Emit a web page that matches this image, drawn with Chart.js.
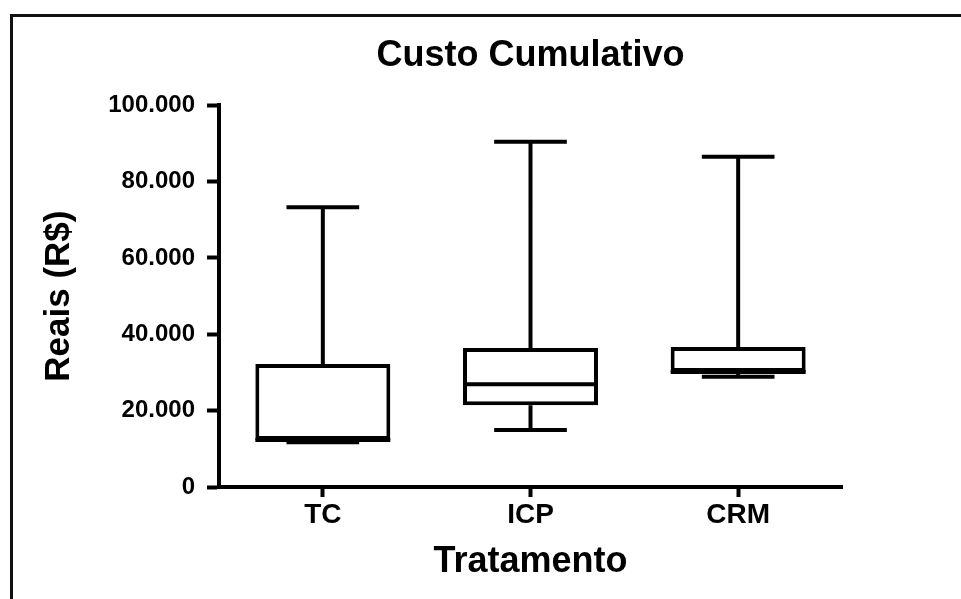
<!DOCTYPE html>
<html>
<head>
<meta charset="utf-8">
<script src="https://cdn.jsdelivr.net/npm/chart.js@4"></script>
<style>
  html, body { margin: 0; padding: 0; background: #fff; }
  #frame {
    position: absolute; left: 10px; top: 14px; right: 0; bottom: 0;
    border-top: 3px solid #111; border-left: 3px solid #111;
  }
  #chart { position: absolute; left: 0; top: 0; }
</style>
</head>
<body>
<div id="frame"></div>
<canvas id="chart" width="961" height="599"></canvas>
<script>
const categories = ['TC', 'ICP', 'CRM'];
const minValues = [11700, 14900, 28900];
const q1Values = [12300, 21400, 30100];
const medianValues = [12300, 26900, 30100];
const q3Values = [32200, 36400, 36700];
const maxValues = [73300, 90400, 86500];
const yTickValues = [0, 20000, 40000, 60000, 80000, 100000];
const yTickLabels = ['0', '20.000', '40.000', '60.000', '80.000', '100.000'];

const fontFamily = "'Liberation Sans', Arial, sans-serif";
const boxHalf = 0.325;
const capHalf = 0.175;

// floating bars for the boxes
const boxData = categories.map((c, i) => ({ x: i, y: [q1Values[i], q3Values[i]] }));

// whiskers, caps and medians as broken line segments
const segments = [];
function seg(x1, y1, x2, y2) {
  segments.push({ x: x1, y: y1 }, { x: x2, y: y2 }, { x: x2, y: null });
}
categories.forEach((c, i) => {
  seg(i, q3Values[i], i, maxValues[i]);
  seg(i - capHalf, maxValues[i], i + capHalf, maxValues[i]);
  seg(i, q1Values[i], i, minValues[i]);
  seg(i - capHalf, minValues[i], i + capHalf, minValues[i]);
  seg(i - boxHalf, medianValues[i], i + boxHalf, medianValues[i]);
});

const ctx = document.getElementById('chart').getContext('2d');
const chart = new Chart(ctx, {
  type: 'bar',
  data: {
    datasets: [{
      type: 'line',
      data: segments,
      borderColor: '#000',
      borderWidth: 4,
      borderCapStyle: 'butt',
      pointRadius: 0,
      spanGaps: false,
      tension: 0,
      order: 1
    }, {
      type: 'bar',
      data: boxData,
      backgroundColor: '#fff',
      borderColor: '#000',
      borderWidth: 4,
      borderSkipped: false,
      barPercentage: 0.65,
      categoryPercentage: 1,
      order: 2
    }]
  },
  options: {
    responsive: false,
    devicePixelRatio: 1,
    animation: false,
    layout: { padding: { left: 0, right: 119, top: 0, bottom: 0 } },
    plugins: {
      legend: { display: false },
      tooltip: { enabled: false },
      title: {
        display: true,
        fullSize: false,
        text: 'Custo Cumulativo',
        color: '#000',
        font: { family: fontFamily, size: 36, weight: 'bold' },
        padding: { top: 34, bottom: 28 }
      }
    },
    scales: {
      x: {
        type: 'linear',
        min: -0.5,
        max: 2.5,
        offset: false,
        afterBuildTicks: (scale) => {
          scale.ticks = categories.map((c, i) => ({ value: i }));
        },
        afterFit: (scale) => { scale.height = 112; },
        ticks: {
          color: '#000',
          font: { family: fontFamily, size: 28, weight: 'bold' },
          padding: 1,
          callback: (value, index) => categories[index]
        },
        grid: { offset: false, drawOnChartArea: false, drawTicks: true, tickLength: 10, tickWidth: 4, tickColor: '#000' },
        border: { display: true, width: 4, color: '#000' },
        title: {
          display: true,
          text: 'Tratamento',
          color: '#000',
          font: { family: fontFamily, size: 36, weight: 'bold' },
          padding: { top: 0, bottom: 15 }
        }
      },
      y: {
        min: 0,
        max: 100000,
        afterBuildTicks: (scale) => {
          scale.ticks = yTickValues.map(v => ({ value: v }));
        },
        afterFit: (scale) => { scale.width = 219; },
        ticks: {
          color: '#000',
          font: { family: fontFamily, size: 24, weight: 'bold' },
          padding: 12,
          callback: (value, index) => yTickLabels[index]
        },
        grid: { drawOnChartArea: false, drawTicks: true, tickLength: 12, tickWidth: 4, tickColor: '#000' },
        border: { display: true, width: 4, color: '#000' },
        title: {
          display: true,
          text: 'Reais (R$)',
          color: '#000',
          font: { family: fontFamily, size: 35, weight: 'bold' },
          padding: { top: 38, bottom: 0 }
        }
      }
    }
  }
});
</script>
</body>
</html>
